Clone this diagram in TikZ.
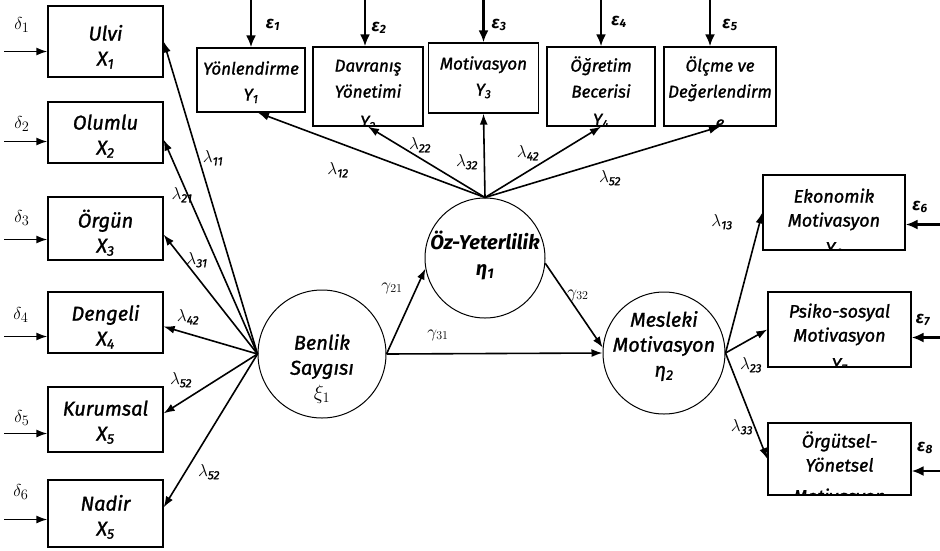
\documentclass[tikz,border=0pt]{standalone}
\usepackage{fontspec}
\setmainfont{Fira Sans}[ItalicFeatures={FakeBold=1.3}]
\usetikzlibrary{arrows.meta}

\newcommand{\errlbl}[1]{ε\textsubscript{#1}}
\newcommand{\lam}[1]{$\lambda$\textsubscript{\textit{#1}}}
% text inside a box, clipped to it; #3 = baseline of first line below the top
\newcommand{\boxlabel}[4]{%
	\begin{scope}
		\clip (#1.west |- #1.north) rectangle (#1.east |- #1.south);
		\node[#2, anchor=north, inner sep=0pt] (#1-txt) at ([yshift={20pt-#3}]#1.north) {\rule{0pt}{20pt}#4};
	\end{scope}}

\tikzset{
	conn/.style={line width=1.6pt, -{Latex[length=11pt,width=8pt]}},
	errarr/.style={line width=2.2pt, -{Latex[length=12pt,width=10pt]}},
	obsbox/.style={draw, line width=1.3pt, inner sep=0pt},
	latent/.style={draw, circle, line width=1pt, inner sep=0pt},
	xtext/.style={font=\itshape\fontsize{20}{25}\selectfont, align=center},
	ytext/.style={font=\itshape\fontsize{17}{26}\selectfont, align=center},
	ztext/.style={font=\itshape\fontsize{18}{24}\selectfont, align=center},
	lvtext/.style={font=\itshape\fontsize{20}{25}\selectfont, align=center},
	oztext/.style={font=\bfseries\itshape\fontsize{20}{26}\selectfont, align=center},
	coef/.style={font=\fontsize{17}{17}\selectfont},
	errlabel/.style={font=\bfseries\itshape\fontsize{17}{17}\selectfont},
	dlabel/.style={font=\fontsize{19}{19}\selectfont},
}

\begin{document}
\begin{tikzpicture}[x=1pt, y=-1pt]
	\useasboundingbox (0,0) rectangle (940,550);
	
	% X indicators
	\node[obsbox, minimum width=115pt, minimum height=71pt] (ulvi) at (105.5,41.5) {};
	\node[obsbox, minimum width=115pt, minimum height=61pt] (olumlu) at (105.5,132.5) {};
	\node[obsbox, minimum width=115pt, minimum height=63pt] (orgun) at (105.5,228.5) {};
	\node[obsbox, minimum width=115pt, minimum height=61pt] (dengeli) at (105.5,322.5) {};
	\node[obsbox, minimum width=115pt, minimum height=65pt] (kurumsal) at (105.5,419.5) {};
	\node[obsbox, minimum width=115pt, minimum height=67pt] (nadir) at (105.5,513.5) {};
	\boxlabel{ulvi}{xtext}{35pt}{Ulvi\\X\textsubscript{1}}
	\boxlabel{olumlu}{xtext}{28pt}{Olumlu\\X\textsubscript{2}}
	\boxlabel{orgun}{xtext}{31pt}{Örgün\\X\textsubscript{3}}
	\boxlabel{dengeli}{xtext}{29pt}{Dengeli\\X\textsubscript{4}}
	\boxlabel{kurumsal}{xtext}{29pt}{Kurumsal\\X\textsubscript{5}}
	\boxlabel{nadir}{xtext}{31pt}{Nadir\\X\textsubscript{5}}
	
	% Y indicators (top)
	\node[obsbox, minimum width=108pt, minimum height=64pt] (yonl) at (251,80) {};
	\node[obsbox, minimum width=110pt, minimum height=79pt] (davr) at (368,86.5) {};
	\node[obsbox, minimum width=110pt, minimum height=70pt] (motiv) at (483.5,78) {};
	\node[obsbox, minimum width=108pt, minimum height=79pt] (ogret) at (601,86.5) {};
	\node[obsbox, minimum width=112pt, minimum height=79pt] (olcme) at (720,86.5) {};
	\boxlabel{yonl}{ytext}{27pt}{Yönlendirme\\Y\textsubscript{1}}
	\boxlabel{davr}{ytext}{25pt}{Davranış\\Yönetimi\\[4pt]Y\textsubscript{2}}
	\boxlabel{motiv}{ytext}{27pt}{Motivasyon\\Y\textsubscript{3}}
	\boxlabel{ogret}{ytext}{25pt}{Öğretim\\Becerisi\\[2pt]Y\textsubscript{4}}
	\boxlabel{olcme}{ytext}{25pt}{Ölçme ve\\Değerlendirm\\[5pt]e}
	
	% Y indicators (right)
	\node[obsbox, minimum width=142pt, minimum height=75pt] (ekon) at (834,212.5) {};
	\node[obsbox, minimum width=143pt, minimum height=75pt] (psiko) at (839.5,329.5) {};
	\node[obsbox, minimum width=143pt, minimum height=72pt] (orgut) at (839.5,459) {};
	\boxlabel{ekon}{ztext}{28pt}{Ekonomik\\Motivasyon\\[4pt]Y\textsubscript{6}}
	\boxlabel{psiko}{ztext}{26pt}{Psiko-sosyal\\Motivasyon\\[5pt]Y\textsubscript{7}}
	\boxlabel{orgut}{ztext}{25pt}{Örgütsel-\\Yönetsel\\[7pt]Motivasyon}
	
	% Latent variables
	\node[latent, minimum size=128pt] (benlik) at (322,354) {};
	\node[latent, minimum size=120pt] (oz) at (485,258) {};
	\node[latent, minimum size=122pt] (mesleki) at (664,353) {};
	\boxlabel{benlik}{lvtext}{60pt}{Benlik\\Saygısı\\$\xi_1$}
	\boxlabel{oz}{oztext}{52pt}{Öz-Yeterlilik\\\textit{η}\textsubscript{1}}
	\boxlabel{mesleki}{lvtext}{35pt}{Mesleki\\Motivasyon\\\textit{η}\textsubscript{2}}
	
	% Error terms, left
	\draw[conn] ([yshift=-10pt]ulvi.west) ++(-43,0) -- ([yshift=-10pt]ulvi.west);
	\draw[conn] ([yshift=-9pt]olumlu.west) ++(-43,0) -- ([yshift=-9pt]olumlu.west);
	\draw[conn] ([yshift=-11pt]orgun.west) ++(-43,0) -- ([yshift=-11pt]orgun.west);
	\draw[conn] ([yshift=-14pt]dengeli.west) ++(-43,0) -- ([yshift=-14pt]dengeli.west);
	\draw[conn] ([yshift=-14pt]kurumsal.west) ++(-43,0) -- ([yshift=-14pt]kurumsal.west);
	\draw[conn] ([yshift=-6pt]nadir.west) ++(-43,0) -- ([yshift=-6pt]nadir.west);
	\node[dlabel] (d1) at (22,25) {$\delta_1$};
	\node[dlabel] (d2) at (22,124) {$\delta_2$};
	\node[dlabel] (d3) at (22,218) {$\delta_3$};
	\node[dlabel] (d4) at (21,315) {$\delta_4$};
	\node[dlabel] (d5) at (22,418) {$\delta_5$};
	\node[dlabel] (d6) at (21,492) {$\delta_6$};
	
	% Error terms, top
	\draw[errarr] (yonl.north) ++(0,-48) -- (yonl.north);
	\draw[errarr] ([xshift=-3pt]davr.north) ++(0,-47) -- ([xshift=-3pt]davr.north);
	\draw[errarr] (motiv.north) ++(0,-43) -- (motiv.north);
	\draw[errarr] (ogret.north) ++(0,-47) -- (ogret.north);
	\draw[errarr] ([xshift=-10pt]olcme.north) ++(0,-47) -- ([xshift=-10pt]olcme.north);
	\node[errlabel] (e1) at (273,25) {\errlbl{1}};
	\node[errlabel] (e2) at (379,28) {\errlbl{2}};
	\node[errlabel] (e3) at (499,25) {\errlbl{3}};
	\node[errlabel] (e4) at (619,22) {\errlbl{4}};
	\node[errlabel] (e5) at (730,25) {\errlbl{5}};
	
	% Error terms, right
	\draw[errarr] ([yshift=-12pt]ekon.east) ++(35,0) -- ([yshift=-12pt]ekon.east);
	\draw[errarr] ([yshift=-8pt]psiko.east) ++(29,0) -- ([yshift=-8pt]psiko.east);
	\draw[errarr] ([yshift=-12pt]orgut.east) ++(29,0) -- ([yshift=-12pt]orgut.east);
	\node[errlabel] (e6) at (920,207) {\errlbl{6}};
	\node[errlabel] (e7) at (923,320) {\errlbl{7}};
	\node[errlabel] (e8) at (925,448) {\errlbl{8}};
	
	% Loadings of Benlik Saygisi
	\draw[conn] (benlik.west) -- (ulvi.east);
	\draw[conn] (benlik.west) -- (olumlu.-7);
	\draw[conn] (benlik.west) -- (orgun.-6);
	\draw[conn] (benlik.west) -- (dengeli.-4);
	\draw[conn] (benlik.west) -- (kurumsal.6);
	\draw[conn] (benlik.west) -- (nadir.6);
	\node[coef] (l11) at (213,158) {\lam{11}};
	\node[coef] (l21) at (182,195) {\lam{21}};
	\node[coef] (l31) at (197,260) {\lam{31}};
	\node[coef] (l42x) at (188,317) {\lam{42}};
	\node[coef] (l52x) at (181,380) {\lam{52}};
	\node[coef] (l62x) at (209,472) {\lam{52}};
	
	% Loadings of Oz-Yeterlilik
	\draw[conn] (oz.north) -- (yonl.-78);
	\draw[conn] (oz.north) -- (davr.south);
	\draw[conn] (oz.north) -- (motiv.south);
	\draw[conn] (oz.north) -- (ogret.south);
	\draw[conn] (oz.north) -- (olcme.south);
	\node[coef] (l12) at (338,170) {\lam{12}};
	\node[coef] (l22) at (420,145) {\lam{22}};
	\node[coef] (l32) at (467,162) {\lam{32}};
	\node[coef] (l42) at (528,153) {\lam{42}};
	\node[coef] (l52) at (610,178) {\lam{52}};
	
	% Loadings of Mesleki Motivasyon
	\draw[conn] (mesleki.east) -- (ekon.west);
	\draw[conn] (mesleki.east) -- (psiko.west);
	\draw[conn] (mesleki.east) -- (orgut.west);
	\node[coef] (l13) at (722,222) {\lam{13}};
	\node[coef] (l23) at (751,365) {\lam{23}};
	\node[coef] (l33) at (742,427) {\lam{33}};
	
	% Structural paths
	\draw[conn] (benlik.east) -- (oz.190);
	\draw[conn] (benlik.east) -- (mesleki.west);
	\draw[conn] (oz.-5) -- (mesleki.175);
	\node[coef] (g21) at (392,288) {$\gamma_{21}$};
	\node[coef] (g31) at (438,335) {$\gamma_{31}$};
	\node[coef] (g32) at (578,295) {$\gamma_{32}$};
\end{tikzpicture}
\end{document}
